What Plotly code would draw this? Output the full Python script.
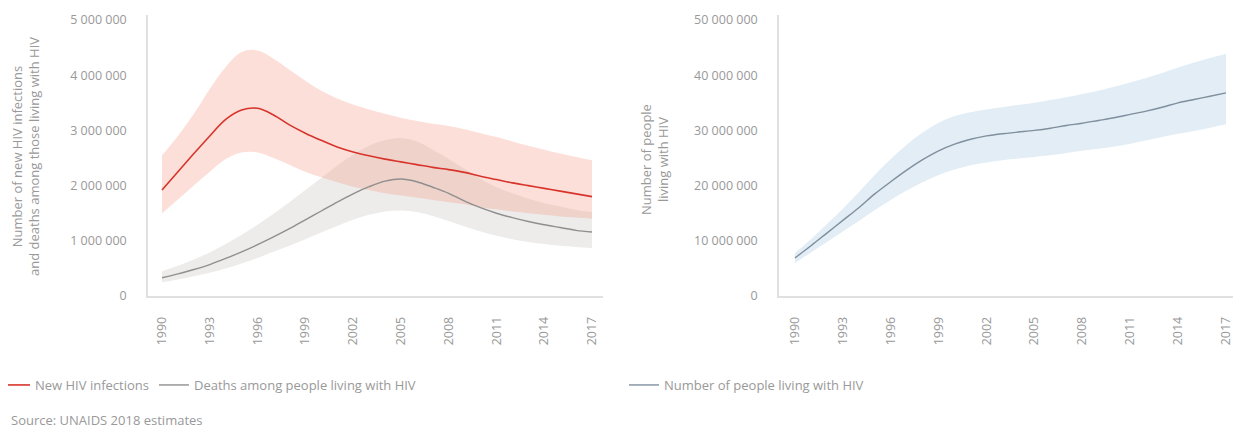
import plotly.graph_objects as go

years = list(range(1990, 2018))

new_inf = [1.92, 2.25, 2.58, 2.90, 3.20, 3.37, 3.40, 3.28, 3.10, 2.95, 2.82, 2.70, 2.61, 2.54,
           2.48, 2.43, 2.38, 2.33, 2.29, 2.24, 2.17, 2.11, 2.05, 2.00, 1.95, 1.90, 1.85, 1.80]
new_inf_hi = [2.55, 2.90, 3.30, 3.75, 4.15, 4.42, 4.45, 4.30, 4.10, 3.90, 3.72, 3.58, 3.47, 3.38,
              3.30, 3.23, 3.17, 3.12, 3.08, 3.02, 2.95, 2.88, 2.80, 2.72, 2.65, 2.58, 2.52, 2.46]
new_inf_lo = [1.50, 1.75, 2.00, 2.25, 2.48, 2.60, 2.60, 2.50, 2.38, 2.25, 2.15, 2.06, 1.98, 1.92,
              1.86, 1.82, 1.78, 1.74, 1.70, 1.66, 1.61, 1.57, 1.53, 1.50, 1.47, 1.44, 1.42, 1.40]

deaths = [0.33, 0.40, 0.48, 0.57, 0.68, 0.80, 0.93, 1.07, 1.22, 1.38, 1.54, 1.70, 1.85, 1.98,
          2.08, 2.12, 2.07, 1.97, 1.86, 1.72, 1.60, 1.50, 1.42, 1.35, 1.29, 1.24, 1.19, 1.16]
deaths_hi = [0.45, 0.55, 0.66, 0.79, 0.94, 1.11, 1.29, 1.49, 1.70, 1.92, 2.14, 2.36, 2.56, 2.72,
             2.82, 2.86, 2.80, 2.65, 2.48, 2.30, 2.12, 1.97, 1.86, 1.76, 1.68, 1.62, 1.56, 1.52]
deaths_lo = [0.25, 0.30, 0.36, 0.42, 0.50, 0.59, 0.69, 0.80, 0.91, 1.03, 1.15, 1.27, 1.38, 1.47,
             1.53, 1.55, 1.52, 1.45, 1.36, 1.26, 1.17, 1.09, 1.03, 0.98, 0.94, 0.91, 0.89, 0.87]

plhiv = [6.9, 9.1, 11.4, 13.7, 16.0, 18.5, 20.7, 22.8, 24.7, 26.3, 27.5, 28.4, 29.0, 29.4,
         29.7, 30.0, 30.4, 30.9, 31.3, 31.8, 32.3, 32.9, 33.5, 34.2, 35.0, 35.6, 36.2, 36.8]
plhiv_hi = [7.8, 10.3, 13.0, 15.8, 18.8, 21.9, 24.8, 27.4, 29.6, 31.4, 32.6, 33.3, 33.8, 34.2,
            34.6, 35.0, 35.5, 36.0, 36.6, 37.2, 37.9, 38.7, 39.5, 40.4, 41.4, 42.3, 43.1, 43.9]
plhiv_lo = [6.0, 7.9, 9.8, 11.7, 13.6, 15.6, 17.4, 19.1, 20.6, 21.9, 22.9, 23.7, 24.2, 24.6,
            24.9, 25.2, 25.5, 25.9, 26.3, 26.7, 27.1, 27.6, 28.2, 28.8, 29.4, 29.9, 30.5, 31.1]

x_ticks = list(range(1990, 2018, 3))

FONT = "Open Sans"
TXT = "#999999"
M = 1e6

# page body has an 8px margin; the figure is sized to fill the rest of the window
OX, OY = 8, 8
W, H = 1248 - OX, 432 - OY


def px(x):
    return (x - OX) / W


def py(y):
    return 1 - (y - OY) / H


fig = go.Figure()


def band(xs, hi, lo, color, xa, ya):
    fig.add_trace(go.Scatter(x=xs, y=[v * M for v in lo], mode="lines", line_shape="spline",
                             line=dict(width=0, color=color), hoverinfo="skip",
                             showlegend=False, xaxis=xa, yaxis=ya))
    fig.add_trace(go.Scatter(x=xs, y=[v * M for v in hi], mode="lines", line_shape="spline",
                             line=dict(width=0, color=color), fill="tonexty", fillcolor=color,
                             hoverinfo="skip", showlegend=False, xaxis=xa, yaxis=ya))


band(years, deaths_hi, deaths_lo, "rgba(190,186,182,0.28)", "x", "y")
band(years, new_inf_hi, new_inf_lo, "rgba(246,150,125,0.30)", "x", "y")
band(years, plhiv_hi, plhiv_lo, "rgba(165,200,225,0.32)", "x2", "y2")

fig.add_trace(go.Scatter(x=years, y=[v * M for v in new_inf], mode="lines", line_shape="spline",
                         line=dict(color="#d7342c", width=1.6), name="New HIV infections",
                         xaxis="x", yaxis="y", legend="legend"))
fig.add_trace(go.Scatter(x=years, y=[v * M for v in deaths], mode="lines", line_shape="spline",
                         line=dict(color="#8f8f8f", width=1.4),
                         name="Deaths among people living with HIV",
                         xaxis="x", yaxis="y", legend="legend"))
fig.add_trace(go.Scatter(x=years, y=[v * M for v in plhiv], mode="lines", line_shape="spline",
                         line=dict(color="#7f8f9e", width=1.4),
                         name="Number of people living with HIV",
                         xaxis="x2", yaxis="y2", legend="legend2"))

# 0 at y=296px, 5 000 000 at y=20px (55.2 px per million)
ydom = [py(296), py(14.5)]
axis_common = dict(showgrid=False, zeroline=False, showline=True, linecolor="#e0e0e0",
                   linewidth=1.5, ticks="", tickfont=dict(family=FONT, size=12.5, color=TXT))

fig.update_layout(
    width=W, height=H, margin=dict(l=0, r=0, t=0, b=0, autoexpand=False),
    paper_bgcolor="white", plot_bgcolor="white", separators=". ",
    font=dict(family=FONT, color=TXT),
    xaxis=dict(domain=[px(148), px(603)], range=[1989.12, 2017.69], tickvals=x_ticks,
               tickangle=-90, anchor="y", ticklabelstandoff=14, **axis_common),
    yaxis=dict(domain=ydom, range=[0, 5.1e6], dtick=1e6, tickformat=",d",
               anchor="x", ticklabelstandoff=17, **axis_common),
    xaxis2=dict(domain=[px(779), px(1233)], range=[1989.0, 2017.44], tickvals=x_ticks,
                tickangle=-90, anchor="y2", ticklabelstandoff=14, **axis_common),
    yaxis2=dict(domain=ydom, range=[0, 51e6], dtick=10e6, tickformat=",d",
                anchor="x2", ticklabelstandoff=17, **axis_common),
    legend=dict(orientation="h", x=px(-5), y=py(385), xanchor="left", yanchor="middle",
                traceorder="normal",
                font=dict(family=FONT, size=13, color=TXT), bgcolor="rgba(0,0,0,0)",
                itemwidth=30),
    legend2=dict(orientation="h", x=px(624), y=py(385), xanchor="left", yanchor="middle",
                 traceorder="normal",
                 font=dict(family=FONT, size=13, color=TXT), bgcolor="rgba(0,0,0,0)",
                 itemwidth=30),
    annotations=[
        dict(text="Number of new HIV infections<br>and deaths among those living with HIV",
             x=px(26), y=py(157), xref="paper", yref="paper", textangle=-90,
             xanchor="center", yanchor="middle",
             showarrow=False, font=dict(family=FONT, size=13, color=TXT), align="center"),
        dict(text="Number of people<br>living with HIV",
             x=px(655), y=py(160), xref="paper", yref="paper", textangle=-90,
             xanchor="center", yanchor="middle",
             showarrow=False, font=dict(family=FONT, size=13, color=TXT), align="center"),
        dict(text="Source: UNAIDS 2018 estimates", x=px(9), y=py(420),
             xref="paper", yref="paper", xanchor="left", yanchor="middle",
             showarrow=False, font=dict(family=FONT, size=13, color=TXT)),
    ],
)

fig.write_html("out.html")
